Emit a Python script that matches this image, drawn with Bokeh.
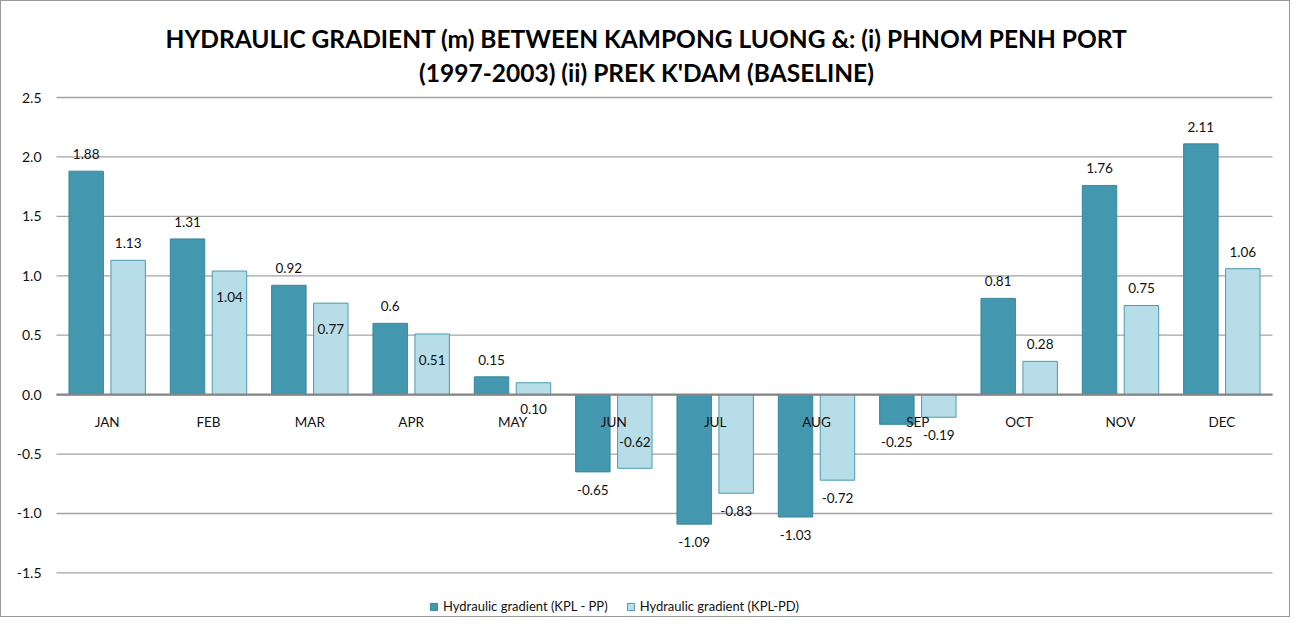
from bokeh.plotting import figure
from bokeh.models import ColumnDataSource, Range1d, Legend, LegendItem
from bokeh.core.properties import value
from bokeh.transform import dodge
from bokeh.embed import file_html
from bokeh.resources import INLINE

# ---------------- data ----------------
MONTHS = ["JAN", "FEB", "MAR", "APR", "MAY", "JUN", "JUL", "AUG", "SEP", "OCT", "NOV", "DEC"]
KPL_PP = [1.88, 1.31, 0.92, 0.6, 0.15, -0.65, -1.09, -1.03, -0.25, 0.81, 1.76, 2.11]
KPL_PD = [1.13, 1.04, 0.77, 0.51, 0.10, -0.62, -0.83, -0.72, -0.19, 0.28, 0.75, 1.06]
Y_TICKS = [-1.5, -1.0, -0.5, 0.0, 0.5, 1.0, 1.5, 2.0, 2.5]
SERIES_NAMES = ["Hydraulic gradient (KPL - PP)", "Hydraulic gradient (KPL-PD)"]
TITLE_LINES = ["HYDRAULIC GRADIENT (m) BETWEEN KAMPONG LUONG &: (i) PHNOM PENH PORT",
               "(1997-2003) (ii) PREK K'DAM (BASELINE)"]

# label placement style (True = label drawn inside the bar end)
PD_LABEL_INSIDE = [False, True, True, True, True, True, False, False, False, False, False, False]

# ---------------- styles / layout ----------------
FONT = "Lato"
DARK_FILL, DARK_LINE = "#4397AE", "#3A889E"
LIGHT_FILL, LIGHT_LINE = "#B7DDE8", "#4B9AB0"
GRID = "#A3A3A3"
ZERO = "#858585"
TXT = "#111111"

W, H = 1290, 617
PLOT_LEFT, PLOT_RIGHT = 55, 1271      # plot area, canvas px
PLOT_TOP = 96                          # canvas px of the top tick
PX_PER_UNIT = 118.85
TITLE_Y_PX = [37, 71]                  # canvas px of the title line centres
OUT_OFF, IN_OFF = 17, 26

n = len(MONTHS)
cat_px = (PLOT_RIGHT - PLOT_LEFT) / n
x_start = -0.5 - PLOT_LEFT / cat_px
x_end = x_start + W / cat_px
y_top = max(Y_TICKS) + PLOT_TOP / PX_PER_UNIT
y_bot = y_top - H / PX_PER_UNIT


def label_offsets(vals, inside):
    offs = []
    for v, ins in zip(vals, inside):
        up = (v >= 0) != ins  # label above the bar end
        offs.append(-(OUT_OFF if not ins else IN_OFF) if up else (OUT_OFF + 1 if not ins else IN_OFF))
    return offs


src = ColumnDataSource(dict(
    x=list(range(n)),
    month=MONTHS,
    pp=KPL_PP,
    pd=KPL_PD,
    pp_lbl=[f"{v:g}" for v in KPL_PP],
    pd_lbl=[f"{v:.2f}" for v in KPL_PD],
    pp_off=label_offsets(KPL_PP, [False] * n),
    pd_off=label_offsets(KPL_PD, PD_LABEL_INSIDE),
    zero=[0] * n,
))
ticks = ColumnDataSource(dict(
    y=Y_TICKS,
    lbl=[f"{t:.1f}" for t in Y_TICKS],
    x0=[-0.5] * len(Y_TICKS),
    x1=[n - 0.5] * len(Y_TICKS),
))

p = figure(width=W, height=H, output_backend="svg", toolbar_location=None,
           x_range=Range1d(x_start, x_end), y_range=Range1d(y_bot, y_top),
           min_border=0, min_border_left=0, min_border_right=0,
           min_border_top=0, min_border_bottom=0,
           background_fill_color="white", border_fill_color="white",
           outline_line_color=None)
p.styles = {"border": "1px solid #9a9a9a"}
p.xaxis.visible = False
p.yaxis.visible = False
p.xgrid.visible = False
p.ygrid.visible = False

# horizontal gridlines + tick labels
p.segment(x0="x0", x1="x1", y0="y", y1="y", source=ticks, line_color=GRID, line_width=1.3)
p.text(x="x0", y="y", text="lbl", source=ticks, x_offset=-15,
       text_align="right", text_baseline="middle",
       text_font=value(FONT), text_font_size="14px", text_color=TXT)

# bars
r1 = p.vbar(x=dodge("x", -0.207), top="pp", bottom=0, width=0.34,
            source=src, fill_color=DARK_FILL, line_color=DARK_LINE, line_width=1)
r2 = p.vbar(x=dodge("x", 0.207), top="pd", bottom=0, width=0.34,
            source=src, fill_color=LIGHT_FILL, line_color=LIGHT_LINE, line_width=1)

# zero line
p.segment(x0=[-0.5], x1=[n - 0.5], y0=[0], y1=[0], line_color=ZERO, line_width=2.2)

# data labels
p.text(x=dodge("x", -0.207), y="pp", text="pp_lbl", y_offset="pp_off",
       source=src, text_align="center", text_baseline="middle",
       text_font=value(FONT), text_font_size="13.5px", text_color=TXT)
p.text(x=dodge("x", 0.207), y="pd", text="pd_lbl", y_offset="pd_off",
       source=src, text_align="center", text_baseline="middle",
       text_font=value(FONT), text_font_size="13.5px", text_color=TXT)

# category labels just below the zero line
p.text(x="x", y="zero", text="month", y_offset=27, source=src,
       text_align="center", text_baseline="middle",
       text_font=value(FONT), text_font_size="13.5px", text_color=TXT)

# title (centred on the chart area)
p.text(x=[(x_start + x_end) / 2] * len(TITLE_LINES),
       y=[y_top - py / PX_PER_UNIT for py in TITLE_Y_PX],
       text=TITLE_LINES, text_align="center", text_baseline="middle",
       text_font=value(FONT), text_font_style="bold", text_font_size="24.5px",
       text_color="#000000")

# legend
legend = Legend(items=[LegendItem(label=SERIES_NAMES[0], renderers=[r1]),
                       LegendItem(label=SERIES_NAMES[1], renderers=[r2])],
                orientation="horizontal", location=(428, 4),
                glyph_width=9, glyph_height=9, label_height=14, label_standoff=5,
                spacing=18, padding=0, margin=0,
                border_line_color=None, background_fill_alpha=0,
                label_text_font=FONT, label_text_font_size="13px", label_text_color=TXT)
p.add_layout(legend)

open("out.html", "w").write(file_html(p, INLINE))
